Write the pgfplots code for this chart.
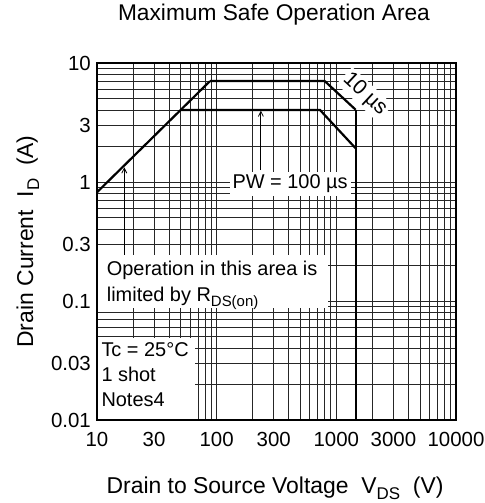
\documentclass[border=0pt]{standalone}
\usepackage{fontspec}
\setmainfont{Liberation Sans}
\usepackage{pgfplots}
\pgfplotsset{compat=1.18}
\usetikzlibrary{arrows.meta}
\newcommand\sub[1]{\raisebox{-5bp}{\fontsize{15}{15}\selectfont #1}}
\newcommand\subL[1]{\raisebox{-6bp}{\fontsize{17}{17}\selectfont #1}}
\begin{document}
\fontsize{20}{24}\selectfont
\begin{tikzpicture}
\useasboundingbox (-97bp,-83bp) rectangle (388bp,420bp);
\begin{axis}[at={(0,0)}, anchor=south west, scale only axis,
  width=359bp, height=357bp,
  xmode=log, ymode=log, xmin=10, xmax=10000, ymin=0.01, ymax=10,
  xtick={10,30,100,300,1000,3000,10000},
  xticklabels={10,30,100,300,1000,3000,10000},
  ytick={0.01,0.03,0.1,0.3,1,3,10},
  yticklabels={0.01,0.03,0.1,0.3,1,3,10},
  minor xtick={20,40,50,60,70,80,90,200,400,500,600,700,800,900,2000,4000,5000,6000,7000,8000,9000},
  minor ytick={0.02,0.04,0.05,0.06,0.07,0.08,0.09,0.2,0.4,0.5,0.6,0.7,0.8,0.9,2,4,5,6,7,8,9},
  grid=both,
  major grid style={black!85, line width=0.8bp},
  minor grid style={black!85, line width=0.8bp},
  major tick length=0pt, minor tick length=0pt,
  axis line style={line width=2.4bp},
  /pgf/number format/assume math mode=true,
  tick label style={font=\fontsize{20.5}{24}\selectfont},
  xticklabel style={anchor=base, yshift=-26bp},
  yticklabel style={anchor=east, inner xsep=0pt, xshift=-6bp},
  title={Maximum Safe Operation Area},
  title style={at={(0.493,1.101)}, anchor=base, font=\fontsize{22.8}{26}\selectfont},
  xlabel={Drain to Source Voltage\ \ V\subL{DS}\ \ (V)},
  xlabel style={at={(0.496,-0.207)}, anchor=base, font=\fontsize{23}{26}\selectfont},
  ylabel={Drain Current\ \ I\subL{D}\ \ (A)},
  ylabel style={at={(-0.178,0.5)}, anchor=base, rotate=0, font=\fontsize{23}{26}\selectfont},
]
% R_DS(on) limit
\addplot[black, line width=2.2bp, no markers] coordinates {(10,0.82) (88,7.05)};
% 10 us
\addplot[black, line width=2.2bp, no markers] coordinates {(88,7.05) (800,7.05) (1450,4.05)};
% 100 us
\addplot[black, line width=2.2bp, no markers] coordinates {(49.5,4.03) (730,4.03) (1450,1.92)};
% voltage limit
\addplot[black, line width=2.2bp, no markers] coordinates {(1450,4.05) (1450,0.01)};
% arrows
\draw[-{Straight Barb[length=5bp,width=5bp]}, line width=0.8bp] (axis cs:16.9,0.244) -- (axis cs:16.9,1.33);
\draw[-{Straight Barb[length=5bp,width=5bp]}, line width=0.8bp] (axis cs:234,1.26) -- (axis cs:234,3.98);
% labels
\fill[white] (rel axis cs:0.003,0.314) rectangle (rel axis cs:0.643,0.462);
\node[anchor=base west, inner sep=0pt] at (rel axis cs:0.027,0.406) {Operation in this area is};
\node[anchor=base west, inner sep=0pt] at (rel axis cs:0.027,0.331) {limited by R\sub{DS(on)}};
\fill[white] (rel axis cs:0.003,0) rectangle (rel axis cs:0.273,0.230);
\node[anchor=base west, inner sep=0pt] at (rel axis cs:0.012,0.177) {Tc = 25°C};
\node[anchor=base west, inner sep=0pt] at (rel axis cs:0.012,0.107) {1 shot};
\node[anchor=base west, inner sep=0pt] at (rel axis cs:0.012,0.037) {Notes4};
\node[fill=white, inner sep=3bp] at (rel axis cs:0.538,0.661) {PW = 100 µs};
\node[fill=white, inner sep=2bp, rotate=-43, font=\fontsize{21}{24}\selectfont] at (rel axis cs:0.746,0.912) {10 µs};
\draw[line width=2.4bp] (rel axis cs:0,0) rectangle (rel axis cs:1,1);
\end{axis}
\end{tikzpicture}
\end{document}
